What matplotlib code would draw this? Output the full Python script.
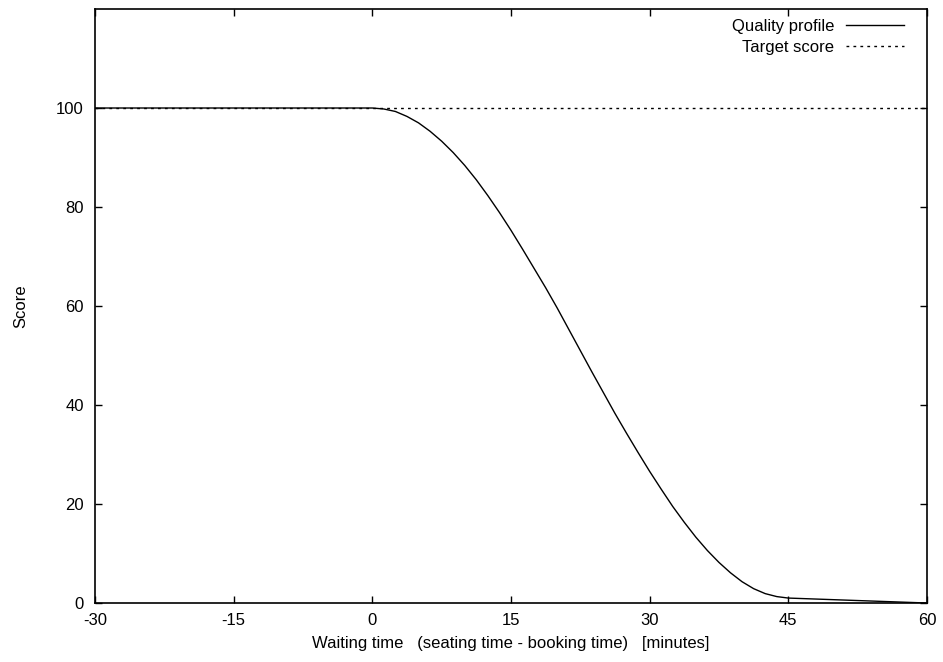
import matplotlib
matplotlib.use("Agg")
import matplotlib.pyplot as plt

# waiting time [min] and quality score
wait_min = [-30, 0, 1.25, 2.5, 3.75, 5, 6.25, 7.5, 8.75, 10, 11.25, 12.5,
            13.75, 15, 16.25, 17.5, 18.75, 20, 21.25, 22.5, 23.75, 25, 26.25,
            27.5, 28.75, 30, 31.25, 32.5, 33.75, 35, 36.25, 37.5, 38.75, 40,
            41.25, 42.5, 43.75, 45, 60]
quality = [100, 100, 99.8, 99.3, 98.3, 97.0, 95.3, 93.3, 91.0, 88.4, 85.5,
           82.3, 78.9, 75.3, 71.5, 67.6, 63.7, 59.6, 55.3, 51.0, 46.7, 42.5,
           38.3, 34.3, 30.4, 26.6, 23.0, 19.5, 16.3, 13.3, 10.6, 8.2, 6.1,
           4.3, 2.9, 1.9, 1.3, 1.0, 0.0]

target_x = [-30, 60]
target_y = [100, 100]

xticks = [-30, -15, 0, 15, 30, 45, 60]
yticks = [0, 20, 40, 60, 80, 100]

plt.rcParams["font.family"] = ["Liberation Sans", "DejaVu Sans"]
plt.rcParams["font.size"] = 12
plt.rcParams["axes.unicode_minus"] = False

fig = plt.figure(figsize=(9.43, 6.62), dpi=100)
ax = fig.add_axes([0.1007, 0.0891, 0.8823, 0.8973])

ax.plot(wait_min, quality, color="black", lw=1.0, label="Quality profile")
ax.plot(target_x, target_y, color="black", lw=1.0, ls=(0, (2, 3)),
        label="Target score")

ax.set_xlim(-30, 60)
ax.set_ylim(0, 120)
ax.set_xticks(xticks)
ax.set_yticks(yticks)
ax.tick_params(direction="in", length=5, width=1, top=True, right=True,
               labelsize=12, color="black")
ax.tick_params(axis="x", pad=7)
ax.tick_params(axis="y", pad=8)
for s in ax.spines.values():
    s.set_linewidth(1.2)

ax.set_xlabel("Waiting time   (seating time - booking time)   [minutes]",
              fontsize=12, labelpad=6)
ax.set_ylabel("Score", fontsize=12, labelpad=20)

ax.legend(loc="upper right", frameon=False, markerfirst=False,
          handlelength=3.5, handletextpad=0.7, labelspacing=0.35,
          borderaxespad=0.2, fontsize=12, bbox_to_anchor=(0.985, 1.0))

fig.savefig("out.png", dpi=100)
